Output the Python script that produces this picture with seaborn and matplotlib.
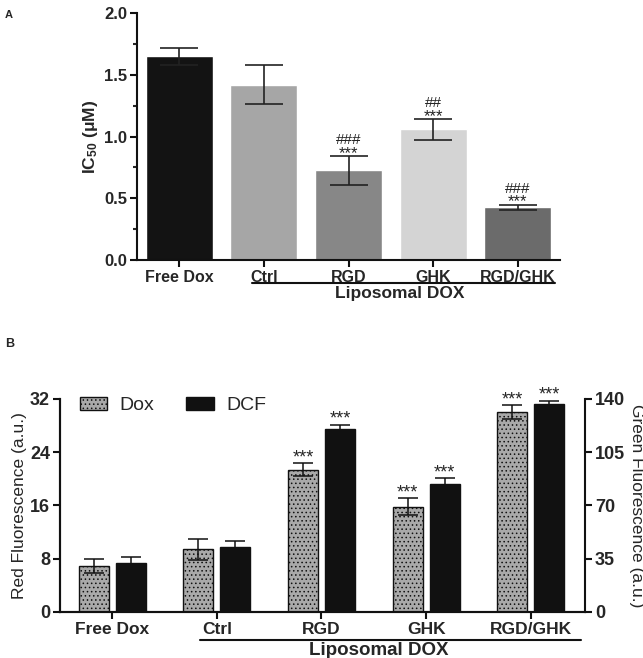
import numpy as np
import pandas as pd
import matplotlib
matplotlib.use("Agg")
import matplotlib.pyplot as plt
import matplotlib.transforms as mtransforms
from matplotlib.patches import Patch
import seaborn as sns

groups = ["Free Dox", "Ctrl", "RGD", "GHK", "RGD/GHK"]

# panel A: IC50 (uM), mean and error
ic50_mean = [1.65, 1.42, 0.725, 1.06, 0.425]
ic50_err = [0.07, 0.16, 0.115, 0.085, 0.024]
ic50_colors = ["#131313", "#a6a6a6", "#878787", "#d4d4d4", "#6b6b6b"]
ic50_stars = ["", "", "***", "***", "***"]
ic50_hash = ["", "", "###", "##", "###"]

# panel B: red (Dox) and green (DCF) fluorescence
dox_mean = [6.9, 9.4, 21.35, 15.8, 30.0]
dox_err = [1.0, 1.55, 1.0, 1.27, 1.05]
dcf_mean = [32.4, 42.6, 120.4, 84.2, 136.4]
dcf_err = [3.5, 4.2, 2.6, 3.5, 2.4]
dox_stars = ["", "", "***", "***", "***"]
dcf_stars = ["", "", "***", "***", "***"]

sns.set_style("ticks")
plt.rcParams["font.family"] = ["Liberation Sans", "DejaVu Sans"]
plt.rcParams["mathtext.fontset"] = "custom"
plt.rcParams["mathtext.rm"] = "Liberation Sans:bold"
plt.rcParams["mathtext.bf"] = "Liberation Sans:bold"
plt.rcParams["mathtext.it"] = "Liberation Sans:bold"
plt.rcParams["hatch.linewidth"] = 0.6

fig = plt.figure(figsize=(6.43, 6.58), dpi=100)
ax_a = fig.add_axes([0.213, 0.605, 0.658, 0.375])
ax_b = fig.add_axes([0.093, 0.070, 0.817, 0.324])


def style_axis(ax, lw=1.5):
    for s in ["left", "bottom", "right"]:
        ax.spines[s].set_linewidth(lw)
        ax.spines[s].set_color("#111111")
    ax.tick_params(axis="both", width=lw, length=5, color="#111111", pad=2)


def liposomal_bracket(ax, x0, x1, xtext, yline, ytext, fs):
    trans = mtransforms.blended_transform_factory(ax.transData, ax.transAxes)
    ax.plot([x0, x1], [yline, yline], color="#111111", lw=1.5,
            transform=trans, clip_on=False)
    ax.text(xtext, ytext, "Liposomal DOX", transform=trans,
            ha="center", va="top", fontsize=fs, fontweight="bold")


# ---------------- panel A ----------------
df_a = pd.DataFrame({"group": groups, "ic50": ic50_mean})
sns.barplot(data=df_a, x="group", y="ic50", hue="group", palette=ic50_colors,
            width=0.79, saturation=1, errorbar=None, legend=False, ax=ax_a)
ax_a.errorbar(np.arange(len(groups)), ic50_mean, yerr=ic50_err, fmt="none",
              ecolor="#222222", elinewidth=1.2, capsize=14, capthick=1.2, zorder=3)
for i, (m, e) in enumerate(zip(ic50_mean, ic50_err)):
    if ic50_stars[i]:
        ax_a.annotate(ic50_stars[i], (i, m + e), xytext=(0, -1.5),
                      textcoords="offset points", ha="center", va="baseline",
                      fontsize=12, color="#222222")
        ax_a.annotate(ic50_hash[i], (i, m + e), xytext=(0, 8.5),
                      textcoords="offset points", ha="center", va="baseline",
                      fontsize=11, color="#222222")
ax_a.set_ylim(0, 2.0)
ax_a.set_xlim(-0.5, 4.5)
ax_a.set_yticks([0, 0.5, 1.0, 1.5, 2.0])
ax_a.set_yticklabels(["0.0", "0.5", "1.0", "1.5", "2.0"])
ax_a.set_yticks(np.arange(0.25, 2.0, 0.5), minor=True)
ax_a.tick_params(axis="y", which="minor", length=3, width=1.5)
ax_a.set_xlabel("")
ax_a.set_ylabel(r"IC$_{50}$ ($\mu$M)", fontsize=12.5, fontweight="bold", labelpad=3)
sns.despine(ax=ax_a)
style_axis(ax_a)
for lab in ax_a.get_xticklabels():
    lab.set_fontweight("bold")
    lab.set_fontsize(11.5)
for lab in ax_a.get_yticklabels():
    lab.set_fontweight("bold")
    lab.set_fontsize(12)
liposomal_bracket(ax_a, 0.86, 4.44, 2.61, -0.093, -0.106, 12.5)
fig.text(0.008, 0.985, "A", fontsize=8, fontweight="bold", va="top")

# ---------------- panel B ----------------
df_b = pd.DataFrame({
    "group": groups * 2,
    "series": ["Dox"] * len(groups) + ["DCF"] * len(groups),
    "value": dox_mean + dcf_mean,
})
pal_b = {"Dox": "#a9a9a9", "DCF": "#111111"}
sns.barplot(data=df_b[df_b.series == "Dox"], x="group", y="value", hue="series",
            hue_order=["Dox", "DCF"], order=groups, palette=pal_b, width=0.708,
            gap=0.19, dodge=True, saturation=1, errorbar=None, legend=False, ax=ax_b)
ax_b2 = ax_b.twinx()
sns.barplot(data=df_b[df_b.series == "DCF"], x="group", y="value", hue="series",
            hue_order=["Dox", "DCF"], order=groups, palette=pal_b, width=0.708,
            gap=0.19, dodge=True, saturation=1, errorbar=None, legend=False, ax=ax_b2)

for p in ax_b.patches:
    p.set_hatch("....")
    p.set_edgecolor("#111111")
    p.set_linewidth(1.0)
for p in ax_b2.patches:
    p.set_edgecolor("#111111")
    p.set_linewidth(1.0)

dox_x = sorted(p.get_x() + p.get_width() / 2 for p in ax_b.patches)
dcf_x = sorted(p.get_x() + p.get_width() / 2 for p in ax_b2.patches)
ax_b.errorbar(dox_x, dox_mean, yerr=dox_err, fmt="none", ecolor="#111111",
              elinewidth=1.1, capsize=7, capthick=1.1, zorder=3)
ax_b2.errorbar(dcf_x, dcf_mean, yerr=dcf_err, fmt="none", ecolor="#111111",
               elinewidth=1.1, capsize=7, capthick=1.1, zorder=3)
for i in range(len(groups)):
    if dox_stars[i]:
        ax_b.annotate(dox_stars[i], (dox_x[i], dox_mean[i] + dox_err[i]),
                      xytext=(0, 0.5), textcoords="offset points", ha="center",
                      va="baseline", fontsize=13)
    if dcf_stars[i]:
        ax_b2.annotate(dcf_stars[i], (dcf_x[i], dcf_mean[i] + dcf_err[i]),
                       xytext=(0, 0.5), textcoords="offset points", ha="center",
                       va="baseline", fontsize=13)

ax_b.set_ylim(0, 32)
ax_b.set_yticks([0, 8, 16, 24, 32])
ax_b2.set_ylim(0, 140)
ax_b2.set_yticks([0, 35, 70, 105, 140])
ax_b.set_xlim(-0.5, 4.52)
ax_b2.set_xlim(-0.5, 4.52)
ax_b.set_xlabel("")
ax_b2.set_xlabel("")
ax_b.set_ylabel("Red Fluorescence (a.u.)", fontsize=12.5, labelpad=2)
ax_b2.set_ylabel("Green Fluorescence (a.u.)", fontsize=12.5, rotation=270,
                 labelpad=14)
for a in (ax_b, ax_b2):
    a.spines["top"].set_visible(False)
    style_axis(a)
ax_b.spines["right"].set_visible(False)
for lab in ax_b.get_xticklabels():
    lab.set_fontweight("bold")
    lab.set_fontsize(12.5)
for lab in ax_b.get_yticklabels() + ax_b2.get_yticklabels():
    lab.set_fontweight("bold")
    lab.set_fontsize(13)

handles = [Patch(facecolor=pal_b["Dox"], edgecolor="#111111", hatch="....", lw=1.0),
           Patch(facecolor=pal_b["DCF"], edgecolor="#111111", lw=1.0)]
ax_b.legend(handles, ["Dox", "DCF"], loc="upper left", bbox_to_anchor=(0.038, 1.01),
            ncol=2, frameon=False, fontsize=14, handlelength=1.4,
            handleheight=0.72, columnspacing=1.65, handletextpad=0.65,
            borderpad=0, borderaxespad=0)
liposomal_bracket(ax_b, 0.84, 4.48, 2.55, -0.131, -0.142, 13.5)
fig.text(0.008, 0.487, "B", fontsize=9, fontweight="bold", va="top")

fig.savefig("out.png", dpi=100)
